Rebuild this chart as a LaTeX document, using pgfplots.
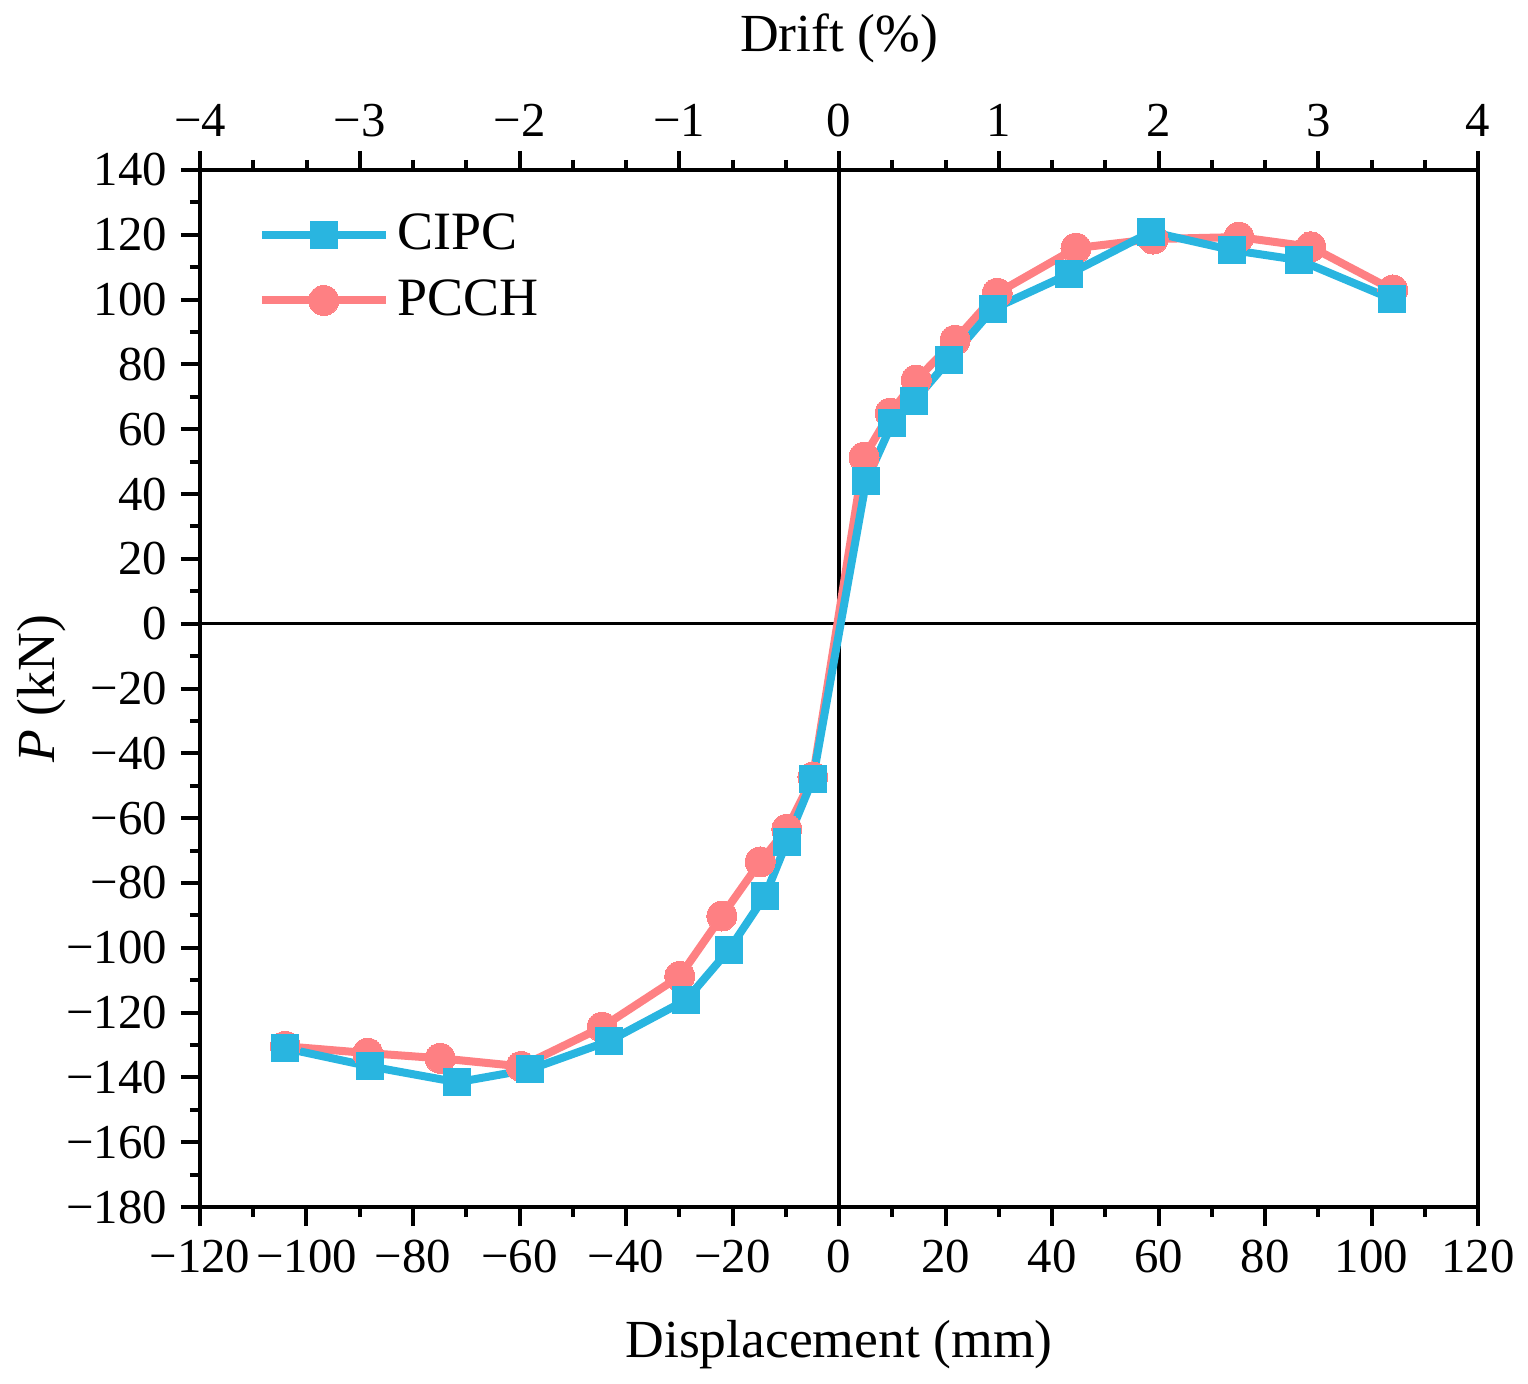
\documentclass[border=0pt]{standalone}
\usepackage{fontspec}
\setmainfont{Liberation Serif}
\usepackage{pgfplots}
\pgfplotsset{compat=1.18}
\definecolor{cblue}{HTML}{29B5E0}
\definecolor{cred}{HTML}{FE8083}
\begin{document}
\begin{tikzpicture}
\useasboundingbox (-50pt,-44pt) rectangle (332pt,301.75pt);
\begin{axis}[
  scale only axis, width=319.5pt, height=259.25pt,
  xmin=-120, xmax=120, ymin=-180, ymax=140,
  axis line style={line width=1pt},
  tick style={line width=1pt, black},
  major tick length=4.75pt, minor tick length=2.5pt,
  tick align=outside, xtick pos=bottom, ytick pos=left,
  xtick={-120,-100,...,120},
  xticklabels={−120,−100,−80,−60,−40,−20,0,20,40,60,80,100,120},
  ytick={-180,-160,...,140},
  yticklabels={−180,−160,−140,−120,−100,−80,−60,−40,−20,0,20,40,60,80,100,120,140},
  minor x tick num=1, minor y tick num=1,
  tick label style={font=\fontsize{12.2}{12.2}\selectfont},
  xlabel={Displacement (mm)},
  ylabel={\textit{P} (kN)},
  label style={font=\fontsize{13.4}{13.4}\selectfont},
  xlabel style={at={(axis description cs:0.5,0)}, anchor=center, yshift=-34.5pt},
  ylabel style={at={(axis description cs:-0.1236,0.5)}, anchor=center},
  reverse legend,
  legend style={at={(axis description cs:0,1)}, anchor=north west, xshift=11.25pt, yshift=-6.75pt,
    draw=none, fill=none, font=\fontsize{13.5}{13.5}\selectfont, row sep=2pt,
    cells={anchor=west}},
  legend image code/.code={\draw[mark repeat=2,mark phase=2,#1] plot coordinates {(0pt,0pt) (15.5pt,0pt) (31pt,0pt)};},
]
\draw[line width=0.8pt, black] (axis cs:0,-180) -- (axis cs:0,140);
\draw[line width=0.8pt, black] (axis cs:-120,0) -- (axis cs:120,0);
\addplot[color=cred, line width=2pt, mark=*, mark size=3.75pt, mark options={solid, fill=cred, draw=cred, line width=0pt}] coordinates {
(-104.0,-130.4) (-88.5,-132.5) (-74.9,-134.1) (-59.7,-136.6) (-44.5,-124.5)
(-29.9,-108.8) (-22.0,-90.2) (-14.8,-73.5) (-9.8,-63.4) (-4.9,-47.3)
(4.7,51.4) (9.6,65.0) (14.5,75.2) (21.8,87.5) (29.7,102.0)
(44.5,115.9) (59.0,118.7) (75.1,119.3) (88.6,116.3) (104.0,103.0)
};
\addlegendentry{PCCH}
\addplot[color=cblue, line width=2pt, mark=square*, mark size=3.35pt, mark options={solid, fill=cblue, draw=cblue, line width=0pt}] coordinates {
(-104.0,-131.0) (-88.1,-136.6) (-71.7,-141.5) (-58.0,-137.5) (-43.2,-128.8)
(-28.7,-116.1) (-20.7,-100.7) (-13.9,-84.0) (-9.8,-67.4) (-4.9,-47.9)
(5.1,44.0) (10.0,61.9) (14.1,68.7) (20.7,81.4) (28.9,97.1)
(43.2,107.9) (58.6,120.9) (73.8,115.3) (86.4,112.2) (103.8,100.2)
};
\addlegendentry{CIPC}
\end{axis}
\begin{axis}[
  scale only axis, width=319.5pt, height=259.25pt,
  xmin=-4, xmax=4, ymin=0, ymax=1,
  axis x line*=top, axis y line=none,
  axis line style={line width=1pt},
  tick style={line width=1pt, black},
  major tick length=4.75pt, minor tick length=2.5pt,
  tick align=outside,
  xtick={-4,-3,...,4},
  xticklabels={−4,−3,−2,−1,0,1,2,3,4},
  minor x tick num=2,
  tick label style={font=\fontsize{12.2}{12.2}\selectfont},
  xlabel={Drift (\%)},
  label style={font=\fontsize{13.4}{13.4}\selectfont},
  xlabel style={at={(axis description cs:0.5,1)}, anchor=center, yshift=33pt},
]
\end{axis}
\end{tikzpicture}
\end{document}
